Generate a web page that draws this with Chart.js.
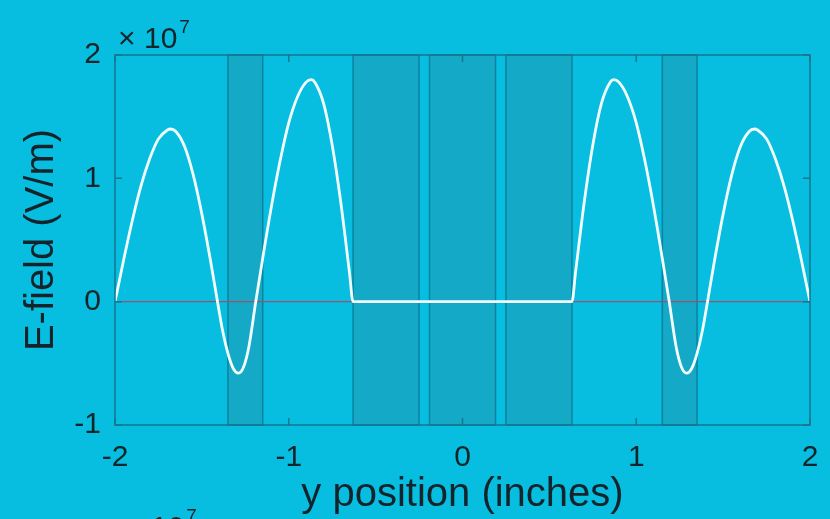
<!DOCTYPE html>
<html>
<head>
<meta charset="utf-8">
<script src="https://cdn.jsdelivr.net/npm/chart.js@4/dist/chart.umd.min.js"></script>
<style>
  html, body { margin: 0; padding: 0; background: #08bee0; }
  canvas { display: block; }
</style>
</head>
<body>
<canvas id="c" width="830" height="519"></canvas>
<script>
// Position across the structure (inches)
const positions = [
  -2.00, -1.95, -1.90, -1.85, -1.80, -1.75, -1.70, -1.68, -1.65, -1.60, -1.55, -1.50, -1.45, -1.41,
  -1.38, -1.35, -1.32, -1.29, -1.26, -1.23, -1.19,
  -1.15, -1.10, -1.05, -1.00, -0.95, -0.90, -0.87, -0.85, -0.80, -0.75, -0.70, -0.65, -0.63,
  0.63,
  0.65, 0.70, 0.75, 0.80, 0.85, 0.87, 0.90, 0.95, 1.00, 1.05, 1.10, 1.15, 1.19,
  1.23, 1.26, 1.29, 1.32, 1.35, 1.38, 1.41,
  1.45, 1.50, 1.55, 1.60, 1.65, 1.68, 1.70, 1.75, 1.80, 1.85, 1.90, 1.95, 2.00
];
// Electric field, in units of 1e7 V/m
const eField = [
  0.00, 0.34, 0.66, 0.94, 1.16, 1.32, 1.39, 1.40, 1.38, 1.26, 1.03, 0.71, 0.33, 0.00,
  -0.24, -0.42, -0.54, -0.58, -0.53, -0.37, 0.00,
  0.35, 0.77, 1.14, 1.45, 1.66, 1.78, 1.80, 1.78, 1.61, 1.27, 0.80, 0.23, 0.00,
  0.00,
  0.23, 0.80, 1.27, 1.61, 1.78, 1.80, 1.78, 1.66, 1.45, 1.14, 0.77, 0.35, 0.00,
  -0.37, -0.53, -0.58, -0.54, -0.42, -0.24, 0.00,
  0.33, 0.71, 1.03, 1.26, 1.38, 1.40, 1.39, 1.32, 1.16, 0.94, 0.66, 0.34, 0.00
];
// Reference zero level
const zeroLineX = [-2, 2];
const zeroLineY = [0, 0];
// Dielectric layers (inches)
const layerStarts = [-1.35, -0.63, -0.19, 0.25, 1.15];
const layerEnds   = [-1.15, -0.25,  0.19, 0.63, 1.35];
// Axis ticks
const xTicks = [-2, -1, 0, 1, 2];
const yTicks = [-1, 0, 1, 2];
const yTickLabels = ['-1', '0', '1', '2'];
const exponentLabel = '7';

const BG = '#08bee0';
const LAYER_FILL = '#14a9c6';
const LAYER_EDGE = '#0a83a0';
const AXIS = '#16758c';
const TEXT = '#13242b';
const FONT = "'Liberation Sans', Arial, Helvetica, sans-serif";

const curveData = positions.map((x, i) => ({ x, y: eField[i] }));
const zeroData = zeroLineX.map((x, i) => ({ x, y: zeroLineY[i] }));

const decorations = {
  id: 'decorations',
  beforeDraw(chart) {
    const { ctx, width, height } = chart;
    ctx.save();
    ctx.fillStyle = BG;
    ctx.fillRect(0, 0, width, height);
    ctx.restore();
  },
  beforeDatasetsDraw(chart) {
    const { ctx, chartArea: a, scales: { x } } = chart;
    ctx.save();
    layerStarts.forEach((s, i) => {
      const x0 = x.getPixelForValue(s);
      const x1 = x.getPixelForValue(layerEnds[i]);
      ctx.fillStyle = LAYER_FILL;
      ctx.fillRect(x0, a.top, x1 - x0, a.bottom - a.top);
      ctx.strokeStyle = LAYER_EDGE;
      ctx.lineWidth = 1.5;
      ctx.strokeRect(x0, a.top, x1 - x0, a.bottom - a.top);
    });
    ctx.restore();
  },
  afterDatasetsDraw(chart) {
    const { ctx, chartArea: a, scales: { x, y } } = chart;
    ctx.save();
    // axes box
    ctx.strokeStyle = AXIS;
    ctx.lineWidth = 1.5;
    ctx.strokeRect(a.left, a.top, a.right - a.left, a.bottom - a.top);
    // inward tick marks on all four sides
    const len = 7;
    ctx.beginPath();
    xTicks.forEach(v => {
      const px = x.getPixelForValue(v);
      ctx.moveTo(px, a.bottom); ctx.lineTo(px, a.bottom - len);
      ctx.moveTo(px, a.top); ctx.lineTo(px, a.top + len);
    });
    yTicks.forEach(v => {
      const py = y.getPixelForValue(v);
      ctx.moveTo(a.left, py); ctx.lineTo(a.left + len, py);
      ctx.moveTo(a.right, py); ctx.lineTo(a.right - len, py);
    });
    ctx.stroke();
    // exponent multiplier above the y axis
    const drawExponent = (left, base) => {
      ctx.fillStyle = TEXT;
      ctx.textBaseline = 'alphabetic';
      ctx.textAlign = 'left';
      ctx.font = '30px ' + FONT;
      ctx.fillText('\u00d7', left, base);
      ctx.fillText('10', left + 26, base);
      const w = ctx.measureText('10').width;
      ctx.font = '19px ' + FONT;
      ctx.fillText(exponentLabel, left + 28 + w, base - 15);
    };
    drawExponent(a.left + 3, a.top - 7);
    // the next panel's multiplier, mostly below the page edge
    drawExponent(a.left + 10, a.top + 482);
    ctx.restore();
  }
};

new Chart(document.getElementById('c'), {
  type: 'scatter',
  data: {
    datasets: [
      {
        data: curveData,
        showLine: true,
        borderColor: '#f2ffff',
        borderWidth: 2.8,
        pointRadius: 0,
        cubicInterpolationMode: 'monotone',
        order: 1
      },
      {
        data: zeroData,
        showLine: true,
        borderColor: '#a0506f',
        borderWidth: 1.2,
        pointRadius: 0,
        order: 2
      }
    ]
  },
  options: {
    responsive: false,
    animation: false,
    events: [],
    layout: { padding: { left: 0, right: 20, top: 55, bottom: 0 } },
    plugins: { legend: { display: false }, tooltip: { enabled: false } },
    scales: {
      x: {
        type: 'linear',
        min: -2, max: 2,
        afterFit(scale) {
          scale.height = 94;
          scale.paddingLeft = 0;
          scale.paddingRight = 0;
        },
        afterBuildTicks(scale) { scale.ticks = xTicks.map(v => ({ value: v })); },
        ticks: { font: { size: 30, family: FONT }, color: TEXT, padding: 15,
                 callback: v => String(v) },
        grid: { display: false, drawTicks: false },
        border: { display: false },
        title: { display: true, text: 'y position (inches)', color: TEXT,
                 font: { size: 40, family: FONT }, padding: { top: 0, bottom: 0 } }
      },
      y: {
        type: 'linear',
        min: -1, max: 2,
        afterFit(scale) {
          scale.width = 115;
          scale.paddingTop = 0;
          scale.paddingBottom = 0;
        },
        afterBuildTicks(scale) { scale.ticks = yTicks.map(v => ({ value: v })); },
        ticks: { font: { size: 30, family: FONT }, color: TEXT, padding: 14,
                 callback: v => yTickLabels[yTicks.indexOf(v)] },
        grid: { display: false, drawTicks: false },
        border: { display: false },
        title: { display: true, text: 'E-field (V/m)', color: TEXT,
                 font: { size: 40, family: FONT }, padding: { top: 18, bottom: 0 } }
      }
    }
  },
  plugins: [decorations]
});
</script>
</body>
</html>
